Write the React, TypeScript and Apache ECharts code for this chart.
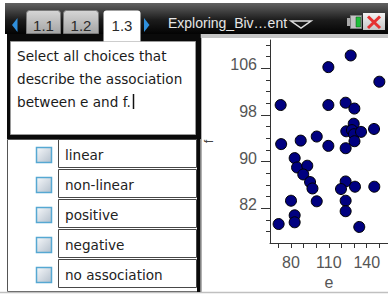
import React, { useEffect, useRef } from "react";
import * as echarts from "echarts";

// ---- data ----
const eValues = [127.3, 109.6, 150.0, 71.8, 109.6, 123.3, 130.2, 129.7, 123.8, 128.3, 129.9, 135.5, 145.8, 100.4, 87.7, 72.2, 109.6, 123.3, 130.3, 82.9, 84.8, 92.9, 89.7, 95.1, 97.0, 123.3, 119.6, 130.7, 146.0, 80.0, 100.4, 123.3, 123.3, 82.9, 82.9, 70.2, 134.1];
const fValues = [108.2, 106.2, 103.7, 99.7, 99.7, 100.1, 99.1, 96.5, 95.2, 95.4, 94.7, 95.1, 95.6, 94.3, 93.6, 93.0, 92.7, 92.3, 93.5, 90.6, 89.0, 89.3, 87.8, 86.5, 85.4, 86.6, 85.3, 85.7, 85.7, 83.3, 83.2, 83.3, 81.5, 80.8, 79.6, 79.3, 78.8];

const xTickValues = [70, 80, 90, 100, 110, 120, 130, 140, 150];
const xLabelValues = [80, 110, 140];
const yTickValues = [78, 80, 82, 84, 86, 88, 90, 92, 94, 96, 98, 100, 102, 104, 106, 108, 110];
const yLabelValues = [82, 90, 98, 106];

const tabLabels = ["1.1", "1.2", "1.3"];
const docTitle = "Exploring_Biv…ent";
const questionLines = ["Select all choices that", "describe the association", "between e and f."];
const choiceLabels = ["linear", "non-linear", "positive", "negative", "no association"];

const X_MIN = 63.36;
const X_MAX = 156.86;
const Y_MIN = 76.05;
const Y_MAX = 110.85;

const TI_FONT = '"DejaVu Sans"';
const AX_FONT = '"Liberation Sans"';

function txt(x: number, y: number, text: string, size: number, family: string, fill: string, align = "left") {
  return {
    type: "text",
    x,
    y,
    z: 10,
    style: {
      text,
      font: `${size}px ${family}`,
      fill,
      textAlign: align,
      textVerticalAlign: "middle",
      align,
      verticalAlign: "middle",
    },
  };
}

function buildGraphic() {
  const els: any[] = [];
  // top bar
  els.push({
    type: "rect",
    z: 1,
    shape: { x: 5, y: 3, width: 383, height: 31 },
    style: {
      fill: new echarts.graphic.LinearGradient(0, 0, 0, 1, [
        { offset: 0, color: "#626262" },
        { offset: 0.55, color: "#1c1c1c" },
        { offset: 1, color: "#030303" },
      ]),
    },
  });
  // left black frame around question box
  els.push({ type: "rect", z: 1, shape: { x: 7, y: 34, width: 194, height: 105 }, style: { fill: "#0a0a0a" } });
  // question white box
  els.push({
    type: "rect",
    z: 2,
    shape: { x: 10.5, y: 41.5, width: 185, height: 93 },
    style: { fill: "#ffffff", stroke: "#9a9a9a", lineWidth: 1 },
  });
  // choices area
  els.push({
    type: "rect",
    z: 1,
    shape: { x: 7.5, y: 139.5, width: 190, height: 152 },
    style: { fill: "#ffffff", stroke: "#555555", lineWidth: 1 },
  });
  // divider
  els.push({ type: "rect", z: 3, shape: { x: 197, y: 34, width: 3.5, height: 258 }, style: { fill: "#0a0a0a" } });
  // right panel grey band and edge
  els.push({ type: "rect", z: 1, shape: { x: 200.5, y: 34, width: 188, height: 4 }, style: { fill: "#c4c4c4" } });
  els.push({ type: "line", z: 1, shape: { x1: 201.5, y1: 38, x2: 201.5, y2: 292 }, style: { stroke: "#b0b0b0", lineWidth: 1 } });
  // bottom line
  els.push({ type: "line", z: 1, shape: { x1: 0, y1: 292.5, x2: 388, y2: 292.5 }, style: { stroke: "#c0c0c0", lineWidth: 1.5 } });

  // tabs
  const tabX = [26, 63, 103];
  const tabW = [34, 35, 37];
  tabLabels.forEach((t, i) => {
    const active = i === 2;
    els.push({
      type: "rect",
      z: 4,
      shape: { x: tabX[i] + 0.5, y: 10.5, width: tabW[i], height: active ? 31 : 23, r: [3, 3, 0, 0] },
      style: active
        ? { fill: "#ffffff" }
        : {
            fill: new echarts.graphic.LinearGradient(0, 0, 0, 1, [
              { offset: 0, color: "#d6d6d6" },
              { offset: 1, color: "#a4a4a4" },
            ]),
            stroke: "#7a7a7a",
            lineWidth: 1,
          },
    });
    els.push(txt(tabX[i] + tabW[i] / 2 + 0.5, 25.5, t, 15, AX_FONT, "#2a2a2a", "center"));
  });
  // blue arrows
  els.push({ type: "polygon", z: 4, shape: { points: [[17.5, 18], [17.5, 32], [12, 25]] }, style: { fill: "#2f8fdc" } });
  els.push({ type: "polygon", z: 4, shape: { points: [[144, 18], [144, 32], [149.5, 25]] }, style: { fill: "#2f8fdc" } });
  // title
  els.push(txt(168, 23, docTitle, 14, AX_FONT, "#e6e6e6"));
  els.push({
    type: "polygon",
    z: 4,
    shape: { points: [[291, 21], [311, 21], [301, 28]] },
    style: { fill: "none", stroke: "#dddddd", lineWidth: 1.5 },
  });
  // battery
  els.push({ type: "rect", z: 4, shape: { x: 347, y: 18, width: 3, height: 8 }, style: { fill: "#a8a8a8" } });
  els.push({ type: "rect", z: 4, shape: { x: 350.5, y: 15.5, width: 11, height: 13 }, style: { fill: "#c4c4c4", stroke: "#808080", lineWidth: 1 } });
  els.push({ type: "rect", z: 5, shape: { x: 356, y: 17, width: 4.5, height: 10 }, style: { fill: "#1fbf3a", stroke: "#0b4d16", lineWidth: 0.5 } });
  // close button
  els.push({
    type: "rect",
    z: 4,
    shape: { x: 363, y: 13, width: 22, height: 17 },
    style: {
      fill: new echarts.graphic.LinearGradient(0, 0, 0, 1, [
        { offset: 0, color: "#f2f2f2" },
        { offset: 1, color: "#c6c6c6" },
      ]),
    },
  });
  els.push({ type: "line", z: 5, shape: { x1: 368, y1: 16.5, x2: 380, y2: 28 }, style: { stroke: "#e53030", lineWidth: 3 } });
  els.push({ type: "line", z: 5, shape: { x1: 380, y1: 16.5, x2: 368, y2: 28 }, style: { stroke: "#e53030", lineWidth: 3 } });

  // question text
  const qY = [56, 79, 102];
  questionLines.forEach((l, i) => els.push(txt(17, qY[i], l, 13.6, TI_FONT, "#1a1a1a")));
  els.push({ type: "line", z: 10, shape: { x1: 133.5, y1: 94, x2: 133.5, y2: 109 }, style: { stroke: "#111", lineWidth: 1.5 } });

  // choices
  choiceLabels.forEach((c, i) => {
    els.push({
      type: "rect",
      z: 4,
      shape: { x: 36.5, y: 147.5 + 30 * i, width: 15, height: 15 },
      style: {
        fill: new echarts.graphic.LinearGradient(0, 0, 1, 1, [
          { offset: 0, color: "#f6f8fa" },
          { offset: 1, color: "#b4c0cc" },
        ]),
        stroke: "#56a8d2",
        lineWidth: 1.5,
      },
    });
    els.push({
      type: "rect",
      z: 4,
      shape: { x: 58.5, y: 139.5 + 30 * i, width: 138, height: 28 },
      style: { fill: "#ffffff", stroke: "#474747", lineWidth: 1 },
    });
    els.push(txt(65, 155 + 30 * i, c, 13.6, TI_FONT, "#222222"));
  });
  return els;
}

export default function App() {
  const ref = useRef<HTMLDivElement>(null);
  useEffect(() => {
    document.body.style.margin = "0";
    const chart = echarts.init(ref.current!, null, { renderer: "svg" });
    const points = eValues.map((e, i) => [e, fValues[i]]);
    chart.setOption({
      animation: false,
      backgroundColor: "#ffffff",
      grid: { left: 270, top: 40, right: 0, bottom: 52, containLabel: false, outerBoundsMode: "none" },
      xAxis: {
        type: "value",
        min: X_MIN,
        max: X_MAX,
        splitLine: { show: false },
        axisLine: { show: true, onZero: false, lineStyle: { color: "#333", width: 1 } },
        axisTick: { show: true, customValues: xTickValues, length: 5, lineStyle: { color: "#333" } },
        axisLabel: { customValues: xLabelValues, fontSize: 16, fontFamily: AX_FONT, color: "#555", margin: 11 },
        name: "e",
        nameLocation: "middle",
        nameGap: 21,
        nameTextStyle: { fontSize: 16, fontFamily: AX_FONT, color: "#555" },
      },
      yAxis: [
        {
          type: "value",
          min: Y_MIN,
          max: Y_MAX,
          splitLine: { show: false },
          axisLine: { show: true, onZero: false, lineStyle: { color: "#333", width: 1 } },
          axisTick: { show: true, customValues: yTickValues, length: 4, lineStyle: { color: "#333" } },
          axisLabel: { show: false },
        },
        {
          type: "value",
          min: Y_MIN,
          max: Y_MAX,
          position: "left",
          splitLine: { show: false },
          axisLine: { show: false, onZero: false },
          axisTick: { show: true, customValues: yLabelValues, length: 9, lineStyle: { color: "#333" } },
          axisLabel: {
            customValues: yLabelValues,
            fontSize: 16,
            fontFamily: AX_FONT,
            color: "#555",
            margin: 13,
            verticalAlign: "bottom",
            lineHeight: 7,
          },
          name: "f",
          nameLocation: "middle",
          nameGap: 55,
          nameRotate: 90,
          nameTextStyle: { fontSize: 13, fontFamily: AX_FONT, color: "#444" },
        },
      ],
      graphic: { elements: buildGraphic() },
      series: [
        {
          type: "scatter",
          data: points,
          symbolSize: 11,
          z: 5,
          itemStyle: { color: "#000080", borderColor: "#000000", borderWidth: 1, opacity: 1 },
        },
      ],
    });
    return () => chart.dispose();
  }, []);
  return <div ref={ref} style={{ position: "fixed", left: 0, top: 0, width: 388, height: 295 }} />;
}
